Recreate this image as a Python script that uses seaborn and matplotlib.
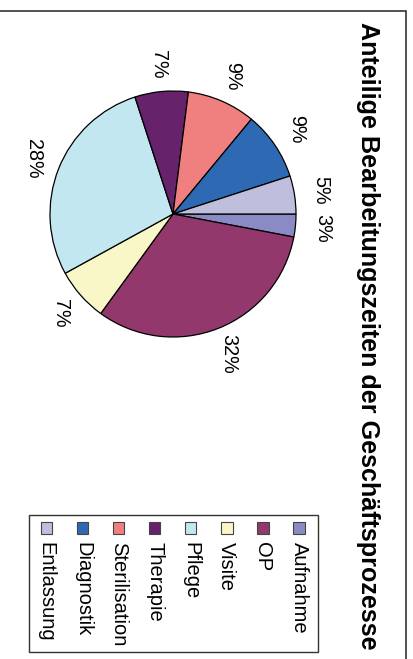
import matplotlib
matplotlib.use("Agg")
import matplotlib.pyplot as plt
from matplotlib.patches import Rectangle
import seaborn as sns

# ---- data ----
categories = ["Aufnahme", "OP", "Visite", "Pflege", "Therapie",
              "Sterilisation", "Diagnostik", "Entlassung"]
shares = [3, 32, 7, 28, 7, 9, 9, 5]
colors = ["#8A8AC4", "#93386C", "#F9F7C8", "#C3E7F0", "#66226A",
          "#F08080", "#2E6AB4", "#C0BEDD"]
title = "Anteilige Bearbeitungszeiten der Geschäftsprozesse"

sns.set_theme(style="white")
plt.rcParams["font.family"] = ["Liberation Sans", "DejaVu Sans"]

W, H, DPI = 414, 659, 100
fig = plt.figure(figsize=(W / DPI, H / DPI), dpi=DPI)
fig.patch.set_facecolor("white")

# background overlay axes in pixel coordinates (y downward)
bg = fig.add_axes([0, 0, 1, 1])
bg.set_xlim(0, W)
bg.set_ylim(H, 0)
bg.axis("off")

# chart frame (top and right edges visible)
bg.plot([-5, 405.7, 405.7], [10.8, 10.8, H + 5], color="#333333", lw=1.2,
        solid_joinstyle="miter")

# title, rotated
bg.text(368, 336, title, rotation=-90, ha="center", va="center",
        fontsize=18.1, fontweight="bold", color="black")

# ---- pie ----
R_PX = 123.0
CX, CY = 173.0, 214.0
L = 1.4
side = 2 * L * R_PX
pax = fig.add_axes([(CX - side / 2) / W, (H - CY - side / 2) / H, side / W, side / H])

labels = [f"{v}%" for v in shares]
wedges, texts = pax.pie(shares, colors=colors, labels=labels, startangle=0,
                        counterclock=False, radius=1.0, labeldistance=1.22,
                        wedgeprops=dict(edgecolor="black", linewidth=0.9),
                        textprops=dict(fontsize=14.2, color="black"))
pax.set_xlim(-L, L)
pax.set_ylim(-L, L)
pax.set_aspect("equal")
pax.axis("off")
for t in texts:
    t.set_rotation(-90)
    t.set_ha("center")
    t.set_va("center")

# ---- legend (rotated, drawn manually) ----
leg_left, leg_top, leg_right, leg_bottom = 29, 515, 318, 652
bg.add_patch(Rectangle((leg_left, leg_top), leg_right - leg_left, leg_bottom - leg_top,
                       fill=False, edgecolor="#333333", lw=1.0))
msize = 11.5
for i, (cat, col) in enumerate(zip(categories, colors)):
    x = 299 - 36.1 * i
    bg.add_patch(Rectangle((x - msize / 2, 528 - msize / 2), msize, msize,
                           facecolor=col, edgecolor="#444444", lw=0.8))
    bg.text(x, 541.5, cat, rotation=-90, ha="center", va="top",
            fontsize=14.5, color="black")

fig.savefig("out.png", dpi=DPI, facecolor="white")
